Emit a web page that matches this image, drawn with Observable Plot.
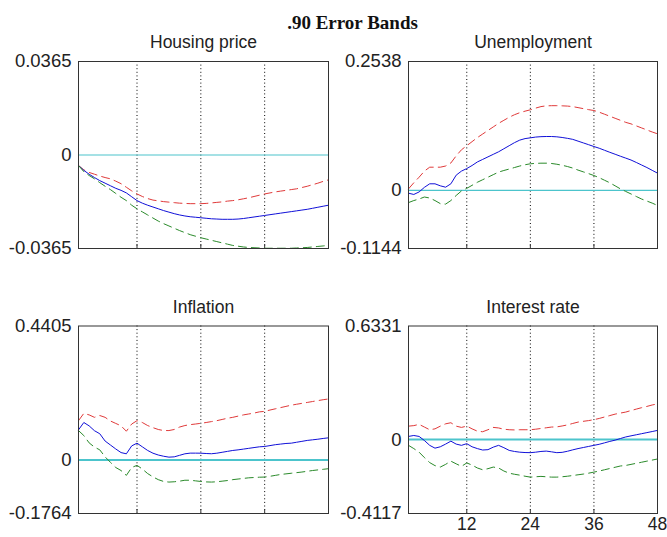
<!DOCTYPE html>
<html><head><meta charset="utf-8">
<script src="https://cdn.jsdelivr.net/npm/d3@7"></script>
<script src="https://cdn.jsdelivr.net/npm/@observablehq/plot@0.6"></script>
<style>
body{margin:0;background:#fff;}
#wrap{position:relative;width:667px;height:537px;overflow:hidden;background:#fff;}
#title{position:absolute;z-index:10;left:0;width:705px;top:12px;line-height:22px;text-align:center;font:bold 19px "Liberation Serif","Times New Roman",serif;color:#111;}
.panel{position:absolute;}
.panel g[aria-label="x-axis tick label"]{font-size:17.5px;}
</style></head><body><div id="wrap"><div id="title">.90 Error Bands</div></div>
<script>
const horizons = d3.range(1, 49);
const gridLines = [12, 24, 36];
const xTickValues = [12, 24, 36, 48];

// Housing price
const hpMed = [-0.0041,-0.0060,-0.0075,-0.0088,-0.0100,-0.0110,-0.0120,-0.0130,-0.0138,-0.0148,-0.0163,-0.0178,-0.0188,-0.0196,-0.0203,-0.0210,-0.0217,-0.0223,-0.0229,-0.0234,-0.0238,-0.0241,-0.0243,-0.0245,-0.0247,-0.0249,-0.0250,-0.0251,-0.0251,-0.0251,-0.0250,-0.0248,-0.0245,-0.0242,-0.0239,-0.0236,-0.0233,-0.0230,-0.0227,-0.0224,-0.0221,-0.0218,-0.0215,-0.0212,-0.0208,-0.0204,-0.0200,-0.0196];
const hpHi = [-0.0041,-0.0058,-0.0068,-0.0075,-0.0082,-0.0088,-0.0093,-0.0102,-0.0112,-0.0126,-0.0140,-0.0152,-0.0162,-0.0170,-0.0176,-0.0179,-0.0182,-0.0184,-0.0186,-0.0188,-0.0189,-0.0190,-0.0190,-0.0190,-0.0189,-0.0187,-0.0185,-0.0183,-0.0180,-0.0178,-0.0175,-0.0171,-0.0167,-0.0162,-0.0157,-0.0152,-0.0148,-0.0144,-0.0141,-0.0138,-0.0135,-0.0132,-0.0127,-0.0122,-0.0116,-0.0110,-0.0103,-0.0097];
const hpLo = [-0.0041,-0.0065,-0.0080,-0.0093,-0.0108,-0.0122,-0.0135,-0.0150,-0.0165,-0.0178,-0.0196,-0.0210,-0.0222,-0.0234,-0.0246,-0.0258,-0.0268,-0.0277,-0.0286,-0.0295,-0.0303,-0.0311,-0.0317,-0.0323,-0.0328,-0.0333,-0.0338,-0.0343,-0.0348,-0.0353,-0.0356,-0.0359,-0.0361,-0.0362,-0.0363,-0.0364,-0.0364,-0.0364,-0.0364,-0.0364,-0.0364,-0.0363,-0.0362,-0.0361,-0.0359,-0.0357,-0.0355,-0.0353];
const hpTicks = [-0.0365, 0, 0.0365];
const hpTickLabels = ["-0.0365", "0", "0.0365"];

// Unemployment
const unMed = [-0.0055,-0.0080,-0.0030,0.0060,0.0130,0.0130,0.0090,0.0063,0.0130,0.0300,0.0380,0.0430,0.0490,0.0560,0.0610,0.0660,0.0710,0.0760,0.0820,0.0880,0.0940,0.0990,0.1020,0.1035,0.1050,0.1058,0.1061,0.1061,0.1055,0.1042,0.1025,0.1005,0.0970,0.0935,0.0900,0.0864,0.0830,0.0790,0.0750,0.0712,0.0673,0.0636,0.0598,0.0550,0.0500,0.0450,0.0395,0.0340];
const unHi = [0.0030,0.0150,0.0260,0.0380,0.0457,0.0457,0.0457,0.0480,0.0540,0.0680,0.0800,0.0880,0.0960,0.1040,0.1110,0.1180,0.1250,0.1320,0.1380,0.1440,0.1490,0.1530,0.1560,0.1587,0.1620,0.1650,0.1665,0.1668,0.1668,0.1665,0.1660,0.1650,0.1630,0.1610,0.1590,0.1573,0.1540,0.1500,0.1460,0.1420,0.1380,0.1340,0.1310,0.1270,0.1230,0.1190,0.1150,0.1114];
const unLo = [-0.0240,-0.0200,-0.0170,-0.0130,-0.0150,-0.0200,-0.0260,-0.0270,-0.0200,-0.0100,-0.0010,0.0040,0.0100,0.0160,0.0210,0.0260,0.0310,0.0360,0.0392,0.0420,0.0450,0.0480,0.0505,0.0524,0.0532,0.0536,0.0536,0.0530,0.0515,0.0495,0.0470,0.0440,0.0400,0.0365,0.0330,0.0293,0.0250,0.0200,0.0150,0.0090,0.0030,-0.0020,-0.0070,-0.0120,-0.0170,-0.0210,-0.0250,-0.0297];
const unTicks = [-0.1144, 0, 0.2538];
const unTickLabels = ["-0.1144", "0", "0.2538"];

// Inflation
const inMed = [0.0988,0.1230,0.1120,0.0960,0.0860,0.0620,0.0490,0.0360,0.0240,0.0200,0.0460,0.0550,0.0430,0.0310,0.0220,0.0160,0.0120,0.0090,0.0100,0.0150,0.0200,0.0222,0.0222,0.0220,0.0210,0.0202,0.0220,0.0250,0.0280,0.0310,0.0330,0.0355,0.0380,0.0405,0.0430,0.0441,0.0470,0.0500,0.0520,0.0540,0.0550,0.0580,0.0610,0.0640,0.0660,0.0680,0.0705,0.0726];
const inHi = [0.1290,0.1530,0.1480,0.1400,0.1460,0.1400,0.1280,0.1200,0.1120,0.0943,0.1180,0.1290,0.1230,0.1130,0.1060,0.1000,0.0965,0.0965,0.1000,0.1080,0.1130,0.1160,0.1180,0.1204,0.1230,0.1260,0.1290,0.1330,0.1370,0.1400,0.1440,0.1480,0.1510,0.1540,0.1580,0.1597,0.1640,0.1680,0.1720,0.1760,0.1800,0.1830,0.1860,0.1890,0.1920,0.1950,0.1980,0.2004];
const inLo = [0.0965,0.0800,0.0560,0.0420,0.0330,0.0100,-0.0080,-0.0250,-0.0350,-0.0510,-0.0250,-0.0180,-0.0300,-0.0450,-0.0560,-0.0650,-0.0710,-0.0730,-0.0720,-0.0700,-0.0670,-0.0670,-0.0690,-0.0710,-0.0725,-0.0730,-0.0720,-0.0700,-0.0680,-0.0650,-0.0630,-0.0610,-0.0590,-0.0580,-0.0570,-0.0565,-0.0540,-0.0510,-0.0480,-0.0460,-0.0440,-0.0420,-0.0400,-0.0375,-0.0350,-0.0330,-0.0310,-0.0290];
const inTicks = [-0.1764, 0, 0.4405];
const inTickLabels = ["-0.1764", "0", "0.4405"];

// Interest rate
const irMed = [0.0178,0.0230,0.0178,-0.0050,-0.0320,-0.0475,-0.0400,-0.0250,-0.0085,-0.0250,-0.0320,-0.0225,-0.0400,-0.0500,-0.0580,-0.0560,-0.0420,-0.0320,-0.0450,-0.0600,-0.0660,-0.0700,-0.0720,-0.0727,-0.0700,-0.0660,-0.0640,-0.0680,-0.0727,-0.0710,-0.0650,-0.0570,-0.0500,-0.0440,-0.0380,-0.0320,-0.0260,-0.0180,-0.0100,-0.0030,0.0060,0.0148,0.0210,0.0270,0.0330,0.0390,0.0450,0.0513];
const irHi = [0.0750,0.0780,0.0850,0.0700,0.0550,0.0600,0.0750,0.0880,0.0940,0.0750,0.0680,0.0753,0.0600,0.0470,0.0440,0.0550,0.0680,0.0650,0.0580,0.0550,0.0540,0.0550,0.0550,0.0550,0.0580,0.0620,0.0660,0.0700,0.0710,0.0760,0.0820,0.0900,0.0976,0.1020,0.1060,0.1110,0.1180,0.1260,0.1340,0.1420,0.1480,0.1534,0.1620,0.1700,0.1780,0.1850,0.1930,0.1990];
const irLo = [-0.0320,-0.0500,-0.0700,-0.1000,-0.1280,-0.1450,-0.1530,-0.1380,-0.1200,-0.1350,-0.1490,-0.1300,-0.1420,-0.1580,-0.1680,-0.1620,-0.1530,-0.1580,-0.1750,-0.1870,-0.1930,-0.1980,-0.2040,-0.2090,-0.2070,-0.2050,-0.2070,-0.2090,-0.2090,-0.2070,-0.2040,-0.2000,-0.1960,-0.1920,-0.1870,-0.1810,-0.1750,-0.1680,-0.1610,-0.1540,-0.1470,-0.1440,-0.1380,-0.1320,-0.1260,-0.1200,-0.1140,-0.1080];
const irTicks = [-0.4117, 0, 0.6331];
const irTickLabels = ["-0.4117", "0", "0.6331"];

const panels = [
  {name: "Housing price", med: hpMed, hi: hpHi, lo: hpLo, ticks: hpTicks, labels: hpTickLabels, row: 0, col: 0},
  {name: "Unemployment", med: unMed, hi: unHi, lo: unLo, ticks: unTicks, labels: unTickLabels, row: 0, col: 1},
  {name: "Inflation", med: inMed, hi: inHi, lo: inLo, ticks: inTicks, labels: inTickLabels, row: 1, col: 0},
  {name: "Interest rate", med: irMed, hi: irHi, lo: irLo, ticks: irTicks, labels: irTickLabels, row: 1, col: 1}
];

const wrap = document.getElementById("wrap");
for (const p of panels) {
  const rows = horizons.map((t, i) => ({t, med: p.med[i], hi: p.hi[i], lo: p.lo[i]}));
  const yDom = [p.ticks[0], p.ticks[2]];
  const labelOf = new Map(p.ticks.map((v, i) => [v, p.labels[i]]));
  const showX = p.row === 1 && p.col === 1;
  const top = p.row === 0 ? 25 : 290;
  const height = p.row === 0 ? 235 : 247;
  const marginTop = p.row === 0 ? 36 : 35.5;
  const marginBottom = p.row === 0 ? 12 : 24;
  const left = p.col === 0 ? 0 : 330;
  const width = p.col === 0 ? 332 : 335;
  const marginRight = p.col === 0 ? 4 : 8;
  const tickLen = (yDom[1] - yDom[0]) * 4 / 187;
  const chart = Plot.plot({
    width, height, marginLeft: 78, marginRight, marginTop, marginBottom,
    style: {fontFamily: "'Liberation Sans', Arial, sans-serif", fontSize: "18.5px", color: "#222", background: "transparent", overflow: "visible"},
    x: {domain: [1, 48], axis: showX ? "bottom" : null, ticks: xTickValues, tickSize: 0, tickPadding: 4, label: null, tickFormat: d => String(d)},
    y: {domain: yDom, ticks: p.ticks, tickFormat: d => labelOf.get(d), tickSize: 0, tickPadding: 7, label: null},
    marks: [
      Plot.ruleX(gridLines, {stroke: "#000", strokeDasharray: "1,2.6", strokeWidth: 1}),
      Plot.ruleX(gridLines, {y1: yDom[0], y2: yDom[0] + tickLen, stroke: "#333", strokeWidth: 1}),
      Plot.ruleY([0], {stroke: "#4cc4cc", strokeWidth: p.row === 0 ? 1.2 : 2}),
      Plot.line(rows, {x: "t", y: "hi", stroke: "#e03a3a", strokeWidth: 1, strokeDasharray: "8,5"}),
      Plot.line(rows, {x: "t", y: "med", stroke: "#1010d8", strokeWidth: 1}),
      Plot.line(rows, {x: "t", y: "lo", stroke: "#2a8a2a", strokeWidth: 1, strokeDasharray: "8,5"}),
      Plot.frame({stroke: "#333", strokeWidth: 1}),
      Plot.text([p.name], {frameAnchor: "top", lineAnchor: "middle", dy: -19, fontSize: 17.5, fill: "#222"})
    ]
  });
  chart.classList.add("panel");
  chart.style.left = left + "px";
  chart.style.top = top + "px";
  wrap.appendChild(chart);
}
</script>
</body></html>
